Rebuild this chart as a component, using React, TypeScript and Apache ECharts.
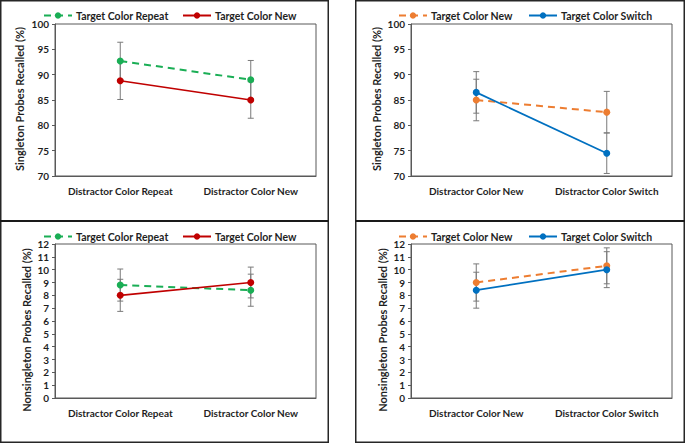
import React, { useEffect, useRef } from "react";
import * as echarts from "echarts";

const CATS_LEFT = ["Distractor Color Repeat", "Distractor Color New"];
const CATS_RIGHT = ["Distractor Color New", "Distractor Color Switch"];

// Top-left: Singleton, left categories
const TL_REPEAT = [92.7, 89.0];
const TL_REPEAT_ERR = [3.7, 3.8];
const TL_NEW = [88.8, 85.0];
const TL_NEW_ERR = [3.7, 3.6];

// Top-right: Singleton, right categories
const TR_NEW = [85.0, 82.6];
const TR_NEW_ERR = [4.1, 4.1];
const TR_SWITCH = [86.5, 74.5];
const TR_SWITCH_ERR = [4.1, 4.0];

// Bottom-left: Nonsingleton, left categories
const BL_REPEAT = [8.8, 8.4];
const BL_REPEAT_ERR = [1.25, 1.25];
const BL_NEW = [8.0, 9.0];
const BL_NEW_ERR = [1.25, 1.2];

// Bottom-right: Nonsingleton, right categories
const BR_NEW = [9.0, 10.3];
const BR_NEW_ERR = [1.45, 1.4];
const BR_SWITCH = [8.4, 10.0];
const BR_SWITCH_ERR = [1.4, 1.4];

const GREEN = "#1aae55";
const RED = "#c00000";
const ORANGE = "#ed7d31";
const BLUE = "#0070c0";
const ERR = "#7a7a7a";
const TXT = "#1f1f1f";
const FONT = "Lato, 'Liberation Sans', sans-serif";

export default function App() {
  const ref = useRef<HTMLDivElement>(null);
  useEffect(() => {
    if (!ref.current) return;
    const chart = echarts.init(ref.current, null, { renderer: "svg" });

    const grids = [
      { left: 55, top: 24, width: 261, height: 152 },
      { left: 411, top: 24, width: 261, height: 152 },
      { left: 55, top: 244, width: 261, height: 154 },
      { left: 411, top: 244, width: 261, height: 154 },
    ].map((g) => ({ ...g, show: true, borderColor: "#595959", borderWidth: 1, containLabel: false }));

    const xAxes = [CATS_LEFT, CATS_RIGHT, CATS_LEFT, CATS_RIGHT].map((cats, i) => ({
      type: "category",
      gridIndex: i,
      data: cats,
      boundaryGap: true,
      axisLine: { show: true, lineStyle: { color: "#595959", width: 1 } },
      axisTick: { show: false },
      axisLabel: { color: TXT, fontFamily: FONT, fontWeight: "bold", fontSize: 10, margin: 10, interval: 0 },
    }));

    const yAxes = [0, 1, 2, 3].map((i) => ({
      type: "value",
      gridIndex: i,
      min: i < 2 ? 70 : 0,
      max: i < 2 ? 100 : 12,
      interval: i < 2 ? 5 : 1,
      axisLine: { show: true, lineStyle: { color: "#595959", width: 1 } },
      axisTick: { show: true, inside: false, length: 3, lineStyle: { color: "#595959" } },
      splitLine: { show: false },
      axisLabel: { color: TXT, fontFamily: FONT, fontWeight: "bold", fontSize: 10, margin: 6 },
    }));

    const errSeries = (idx: number, vals: number[], errs: number[]) => ({
      type: "custom",
      xAxisIndex: idx,
      yAxisIndex: idx,
      z: 1,
      silent: true,
      data: vals.map((v, k) => [k, v - errs[k], v + errs[k]]),
      encode: { x: 0, y: [1, 2] },
      renderItem: (params: any, api: any) => {
        const x = api.value(0);
        const lo = api.coord([x, api.value(1)]);
        const hi = api.coord([x, api.value(2)]);
        const cap = 3;
        const style = { stroke: ERR, lineWidth: 1 };
        return {
          type: "group",
          children: [
            { type: "line", shape: { x1: lo[0], y1: lo[1], x2: hi[0], y2: hi[1] }, style },
            { type: "line", shape: { x1: lo[0] - cap, y1: lo[1], x2: lo[0] + cap, y2: lo[1] }, style },
            { type: "line", shape: { x1: hi[0] - cap, y1: hi[1], x2: hi[0] + cap, y2: hi[1] }, style },
          ],
        };
      },
    });

    const lineSeries = (idx: number, name: string, vals: number[], color: string, dashed: boolean) => ({
      type: "line",
      name,
      xAxisIndex: idx,
      yAxisIndex: idx,
      z: 3,
      data: vals,
      symbol: "circle",
      symbolSize: 7,
      itemStyle: { color },
      lineStyle: { color, width: dashed ? 2 : 1.75, type: dashed ? [7, 5] : "solid" },
    });

    const names = {
      tlRepeat: "TL:Target Color Repeat",
      tlNew: "TL:Target Color New",
      trNew: "TR:Target Color New",
      trSwitch: "TR:Target Color Switch",
      blRepeat: "BL:Target Color Repeat",
      blNew: "BL:Target Color New",
      brNew: "BR:Target Color New",
      brSwitch: "BR:Target Color Switch",
    };

    const legend = (name: string, left: number, top: number) => ({
      data: [name],
      left,
      top,
      itemWidth: 28,
      itemHeight: 8,
      itemGap: 0,
      selectedMode: false,
      formatter: (n: string) => n.split(":")[1],
      textStyle: { color: TXT, fontFamily: FONT, fontWeight: "bold", fontSize: 10.5, padding: [0, 0, 0, -1] },
      padding: 0,
    });

    const yTitle = (text: string, x: number, y: number) => ({
      type: "text",
      x,
      y,
      rotation: Math.PI / 2,
      style: {
        text,
        fill: TXT,
        font: `bold 11px ${FONT}`,
        align: "center",
        verticalAlign: "middle",
      },
    });

    chart.setOption({
      animation: false,
      backgroundColor: "#ffffff",
      grid: grids,
      xAxis: xAxes,
      yAxis: yAxes,
      legend: [
        legend(names.tlRepeat, 43, 10),
        legend(names.tlNew, 182, 10),
        legend(names.trNew, 398, 10),
        legend(names.trSwitch, 528, 10),
        legend(names.blRepeat, 43, 231),
        legend(names.blNew, 182, 231),
        legend(names.brNew, 398, 231),
        legend(names.brSwitch, 528, 231),
      ],
      graphic: [
        { type: "rect", shape: { x: 0.75, y: 0.75, width: 327.5, height: 441.5 }, style: { fill: "none", stroke: "#262626", lineWidth: 1.5 } },
        { type: "rect", shape: { x: 355.75, y: 0.75, width: 328.5, height: 441.5 }, style: { fill: "none", stroke: "#262626", lineWidth: 1.5 } },
        { type: "line", shape: { x1: 0, y1: 221, x2: 328.5, y2: 221 }, style: { stroke: "#1a1a1a", lineWidth: 2 } },
        { type: "line", shape: { x1: 355.5, y1: 221, x2: 685, y2: 221 }, style: { stroke: "#1a1a1a", lineWidth: 2 } },
        yTitle("Singleton Probes Recalled (%)", 19, 99),
        yTitle("Singleton Probes Recalled (%)", 376, 99),
        yTitle("Nonsingleton Probes Recalled (%)", 26, 330),
        yTitle("Nonsingleton Probes Recalled (%)", 382, 330),
      ],
      series: [
        errSeries(0, TL_REPEAT, TL_REPEAT_ERR),
        errSeries(0, TL_NEW, TL_NEW_ERR),
        lineSeries(0, names.tlRepeat, TL_REPEAT, GREEN, true),
        lineSeries(0, names.tlNew, TL_NEW, RED, false),
        errSeries(1, TR_NEW, TR_NEW_ERR),
        errSeries(1, TR_SWITCH, TR_SWITCH_ERR),
        lineSeries(1, names.trNew, TR_NEW, ORANGE, true),
        lineSeries(1, names.trSwitch, TR_SWITCH, BLUE, false),
        errSeries(2, BL_REPEAT, BL_REPEAT_ERR),
        errSeries(2, BL_NEW, BL_NEW_ERR),
        lineSeries(2, names.blRepeat, BL_REPEAT, GREEN, true),
        lineSeries(2, names.blNew, BL_NEW, RED, false),
        errSeries(3, BR_NEW, BR_NEW_ERR),
        errSeries(3, BR_SWITCH, BR_SWITCH_ERR),
        lineSeries(3, names.brNew, BR_NEW, ORANGE, true),
        lineSeries(3, names.brSwitch, BR_SWITCH, BLUE, false),
      ],
    });
    return () => chart.dispose();
  }, []);
  return (
    <div
      ref={ref}
      style={{ position: "fixed", left: 0, top: 0, width: 685, height: 443, background: "#fff" }}
    />
  );
}
